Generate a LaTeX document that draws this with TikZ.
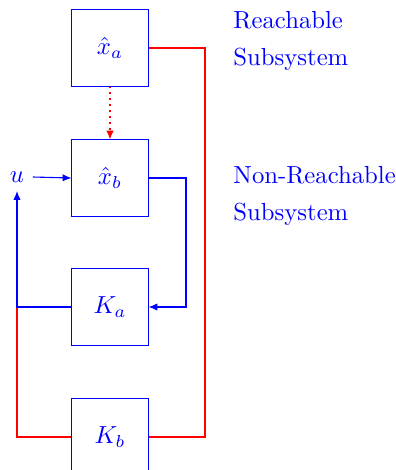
\documentclass[tikz,border=0pt]{standalone}
\usepackage{amsmath}
\usetikzlibrary{positioning}
\usetikzlibrary{arrows.meta}

\tikzset{
  blockbox/.style={draw=blue, text=blue, minimum size=30.8pt, inner sep=0pt},
  sigarrow/.style={-{Latex[length=3.6pt,width=3pt]}},
  blueline/.style={draw=blue, line width=0.45pt},
  redline/.style={draw=red, line width=0.45pt},
  caption/.style={text=blue, anchor=base west, inner sep=0pt}
}

\begin{document}
\begin{tikzpicture}[x=0.405pt, y=-0.405pt]
\useasboundingbox (0,0) rectangle (396,470);

\node[blockbox] (Xa) at (110,48) {$\hat{x}_a$};
\node[blockbox] (Xb) at (110,178) {$\hat{x}_b$};
\node[blockbox] (Ka) at (110,307) {$K_a$};
\node[blockbox] (Kb) at (110,437) {$K_b$};

\node[text=blue] (U) at (17,177) {$u$};

\coordinate (Rb) at (186,178);
\coordinate (Ra) at (205,48);
\coordinate (Lk) at (17,307);
\coordinate (Lb) at (17,437);

% loop through x_a and K_b
\draw[redline] (Xa.east) -- (Ra) |- (Kb.east);
\draw[redline] (Kb.west) -- (Lb) -- (Lk);

% loop through x_b and K_a
\draw[blueline, sigarrow] (U.east) -- (Xb.west);
\draw[blueline, sigarrow] (Xb.east) -- (Rb) |- (Ka.east);
\draw[blueline, sigarrow] (Ka.west) -- (Lk) -- (U.south);

% coupling
\draw[redline, dash pattern=on 0.8pt off 1.6pt, sigarrow] (Xa.south) -- (Xb.north);

\node[caption] at (233,28) {Reachable};
\node[caption] at (233,65) {Subsystem};
\node[caption] at (233,183) {Non-Reachable};
\node[caption] at (233,220) {Subsystem};

\end{tikzpicture}
\end{document}
